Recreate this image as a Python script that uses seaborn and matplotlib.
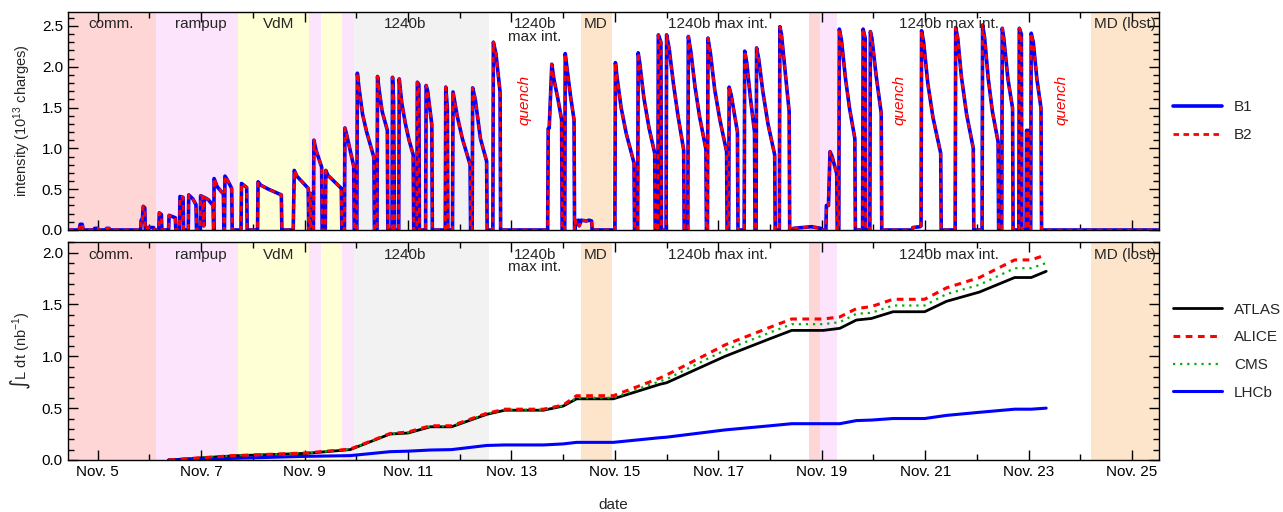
import matplotlib
matplotlib.use("Agg")
import matplotlib.pyplot as plt
import matplotlib.transforms as mtransforms
from matplotlib.ticker import FixedLocator, FuncFormatter, MultipleLocator
import pandas as pd
import seaborn as sns

# ------------------------------------------------------
# Data (x = day of November)
# ------------------------------------------------------
shade_start = [4.42, 6.12, 7.71, 9.09, 9.32, 9.72, 9.95, 14.34, 18.75, 18.96, 24.20]
shade_end = [6.12, 7.71, 9.09, 9.32, 9.72, 9.95, 12.56, 14.94, 18.96, 19.29, 25.52]
shade_color = ["#ffd6d6", "#fce4fc", "#ffffd6", "#fce4fc", "#ffffd6", "#fce4fc",
               "#f2f2f2", "#fde5cc", "#ffd6d6", "#fce4fc", "#fde5cc"]

phase_labels = ["comm.", "rampup", "VdM", "1240b", "1240b\nmax int.", "MD",
                "1240b max int.", "1240b max int.", "MD (lost)"]
phase_pos = [5.26, 7.0, 8.5, 10.95, 13.45, 14.63, 17.0, 21.45, 24.86]

quench_pos = [13.25, 20.51, 23.63]

intensity_time = [
    4.42, 4.64, 4.66, 4.70, 4.72, 4.93, 4.94, 5.00, 5.01, 5.16, 5.17, 5.22, 5.23,
    5.83, 5.84, 5.86, 5.88, 5.91, 5.92, 5.95, 5.96, 6.08, 6.09,
    6.18, 6.19, 6.23, 6.24, 6.37, 6.38, 6.50, 6.51, 6.58, 6.59, 6.65, 6.66,
    6.75, 6.76, 6.84, 6.90, 6.91, 6.98, 6.99, 7.02, 7.05, 7.06, 7.14, 7.23, 7.24,
    7.245, 7.25, 7.31, 7.43, 7.44, 7.45, 7.46, 7.50, 7.59, 7.60,
    7.77, 7.78, 7.80, 7.88, 7.89, 8.09, 8.10, 8.15, 8.30, 8.55, 8.56,
    8.78, 8.80, 8.85, 9.07, 9.08, 9.10, 9.11, 9.12,
    9.17, 9.18, 9.22, 9.33, 9.34, 9.40, 9.41, 9.45, 9.71, 9.72,
    9.77, 9.78, 9.82, 9.95, 9.96, 10.01, 10.02, 10.05, 10.12, 10.20, 10.34, 10.35,
    10.40, 10.41, 10.44, 10.50, 10.60, 10.61, 10.69, 10.70, 10.72, 10.74,
    10.82, 10.83, 10.88, 10.95, 11.02, 11.10, 11.11,
    11.17, 11.18, 11.21, 11.22, 11.34, 11.35, 11.38, 11.46, 11.47,
    11.72, 11.73, 11.76, 11.77, 11.86, 11.87, 11.95, 12.05, 12.20, 12.21,
    12.24, 12.25, 12.30, 12.40, 12.52, 12.53, 12.64, 12.65, 12.70, 12.78, 12.79,
    13.70, 13.71, 13.73, 13.78, 13.82, 13.90, 13.97, 13.98,
    14.03, 14.04, 14.08, 14.14, 14.21, 14.22,
    14.23, 14.24, 14.30, 14.31, 14.35, 14.45, 14.50, 14.55, 14.56,
    15.00, 15.01, 15.04, 15.12, 15.22, 15.37, 15.38,
    15.44, 15.45, 15.48, 15.56, 15.66, 15.77, 15.78,
    15.83, 15.84, 15.89, 15.90, 15.99, 16.00, 16.05, 16.13, 16.22, 16.33, 16.34,
    16.41, 16.42, 16.47, 16.55, 16.64, 16.76, 16.77,
    16.79, 16.80, 16.85, 16.93, 17.03, 17.16, 17.17,
    17.20, 17.21, 17.25, 17.37, 17.38,
    17.50, 17.51, 17.55, 17.62, 17.70, 17.71,
    17.73, 17.74, 17.78, 17.86, 17.96, 18.09, 18.10,
    18.18, 18.19, 18.22, 18.30, 18.37, 18.38,
    18.44, 18.45, 18.80, 18.98, 18.99,
    19.08, 19.09, 19.13, 19.16, 19.20, 19.29, 19.30,
    19.33, 19.34, 19.38, 19.46, 19.54, 19.64, 19.65,
    19.79, 19.80, 19.84, 19.85, 19.93, 19.94, 19.97, 20.05, 20.15, 20.16,
    20.75, 20.76, 20.90, 20.92, 20.93, 20.97, 21.05, 21.15, 21.30, 21.31,
    21.58, 21.59, 21.63, 21.70, 21.80, 21.93, 21.94,
    22.10, 22.11, 22.15, 22.22, 22.30, 22.41, 22.42,
    22.48, 22.49, 22.52, 22.60, 22.69, 22.70,
    22.81, 22.82, 22.86, 22.87, 22.95, 22.96, 22.99, 23.00,
    23.04, 23.05, 23.09, 23.16, 23.24, 23.25, 25.52,
]
intensity_b1 = [
    0, 0, 0.07, 0.07, 0, 0, 0.02, 0.02, 0, 0, 0.02, 0.02, 0,
    0, 0.12, 0.10, 0.29, 0.27, 0, 0, 0.03, 0.03, 0,
    0, 0.21, 0.19, 0, 0, 0.18, 0.15, 0, 0, 0.41, 0.40, 0,
    0, 0.43, 0.38, 0.31, 0, 0, 0.42, 0.41, 0.05, 0.40, 0.37, 0.30, 0,
    0, 0.63, 0.53, 0.44, 0, 0, 0.66, 0.62, 0.51, 0,
    0, 0.57, 0.56, 0.52, 0, 0, 0.59, 0.55, 0.50, 0.43, 0,
    0, 0.73, 0.66, 0.51, 0, 0, 0.45, 0,
    0, 1.10, 0.98, 0.77, 0, 0, 0.73, 0.67, 0.51, 0,
    0, 1.25, 1.15, 0.78, 0, 0, 1.92, 1.75, 1.42, 1.20, 0.89, 0,
    0, 1.88, 1.72, 1.45, 1.22, 0, 0, 1.87, 1.60, 0,
    0, 1.85, 1.55, 1.30, 1.10, 0.92, 0,
    0, 1.81, 1.78, 0, 0, 1.77, 1.70, 1.29, 0,
    0, 1.75, 1.50, 0, 0, 1.69, 1.40, 1.12, 0.80, 0,
    0, 1.74, 1.60, 1.12, 0.84, 0, 0, 2.30, 2.16, 1.69, 0,
    0, 1.24, 1.25, 2.03, 1.85, 1.60, 1.35, 0,
    0, 2.16, 1.95, 1.65, 1.35, 0,
    0, 0.11, 0.12, 0.05, 0.12, 0.11, 0.12, 0.11, 0,
    0, 2.05, 1.88, 1.50, 1.18, 0.82, 0,
    0, 2.17, 2.05, 1.62, 1.25, 0.94, 0,
    0, 2.39, 2.30, 0, 0, 2.39, 2.22, 1.80, 1.40, 0.98, 0,
    0, 2.37, 2.18, 1.75, 1.38, 0.99, 0,
    0, 2.35, 2.15, 1.72, 1.35, 0.96, 0,
    0, 1.75, 1.65, 1.20, 0,
    0, 2.19, 2.05, 1.62, 1.20, 0,
    0, 2.23, 2.10, 1.70, 1.30, 0.92, 0,
    0, 2.49, 2.40, 1.90, 1.45, 0,
    0, 0.02, 0.04, 0.02, 0,
    0, 0.30, 0.30, 0.96, 0.90, 0.69, 0,
    0, 2.46, 2.33, 1.85, 1.48, 1.12, 0,
    0, 2.46, 2.35, 0, 0, 2.43, 2.35, 1.90, 1.43, 0,
    0, 0.03, 0.04, 0.05, 2.44, 2.30, 1.80, 1.38, 0.94, 0,
    0, 2.48, 2.35, 1.88, 1.42, 1.00, 0,
    0, 2.51, 2.35, 1.85, 1.45, 1.08, 0,
    0, 2.47, 2.35, 1.85, 1.49, 0,
    0, 2.47, 2.40, 0, 0, 1.22, 1.22, 0,
    0, 2.41, 2.30, 1.85, 1.49, 0, 0,
]
intensity_b2 = list(intensity_b1)

lumi_time = [6.37, 7.62, 9.04, 9.88, 10.65, 11.00, 11.43, 11.84, 12.52, 12.87,
             13.62, 14.00, 14.26, 14.97, 15.87, 16.00, 17.13, 18.00, 18.42, 19.03,
             19.35, 19.67, 19.96, 20.38, 20.99, 21.41, 22.05, 22.73, 23.05, 23.34]
lumi_atlas = [0, 0.040, 0.064, 0.100, 0.25, 0.26, 0.32, 0.32, 0.44, 0.48,
              0.48, 0.52, 0.59, 0.59, 0.73, 0.745, 1.00, 1.17, 1.25, 1.25,
              1.27, 1.35, 1.365, 1.43, 1.43, 1.53, 1.62, 1.76, 1.76, 1.82]
lumi_alice = [0, 0.042, 0.068, 0.105, 0.255, 0.27, 0.33, 0.33, 0.45, 0.49,
              0.49, 0.53, 0.62, 0.62, 0.79, 0.82, 1.11, 1.28, 1.36, 1.36,
              1.38, 1.46, 1.48, 1.55, 1.55, 1.66, 1.76, 1.93, 1.93, 1.98]
lumi_cms = [0, 0.041, 0.066, 0.103, 0.25, 0.265, 0.325, 0.325, 0.445, 0.485,
            0.485, 0.525, 0.60, 0.60, 0.76, 0.78, 1.06, 1.23, 1.31, 1.31,
            1.33, 1.41, 1.42, 1.49, 1.49, 1.60, 1.69, 1.85, 1.85, 1.90]
lumi_lhcb = [0, 0.016, 0.035, 0.042, 0.080, 0.085, 0.096, 0.100, 0.14, 0.145,
             0.145, 0.155, 0.17, 0.17, 0.215, 0.22, 0.29, 0.33, 0.35, 0.35,
             0.35, 0.38, 0.385, 0.40, 0.40, 0.43, 0.46, 0.49, 0.49, 0.50]

major_days = [5, 7, 9, 11, 13, 15, 17, 19, 21, 23, 25]


# ------------------------------------------------------
# Helpers
# ------------------------------------------------------
def decorate(ax, ymax, minor_y):
    for x0, x1, c in zip(shade_start, shade_end, shade_color):
        ax.axvspan(x0, x1, color=c, lw=0, zorder=0)
    trans = mtransforms.blended_transform_factory(ax.transData, ax.transAxes)
    for lab, x in zip(phase_labels, phase_pos):
        ax.text(x, 0.975, lab, transform=trans, ha="center", va="top",
                fontsize=11, linespacing=0.85, zorder=5, clip_on=True)
    ax.set_xlim(4.42, 25.52)
    ax.set_ylim(0, ymax)
    ax.xaxis.set_major_locator(FixedLocator(major_days))
    ax.xaxis.set_minor_locator(MultipleLocator(1))
    ax.yaxis.set_major_locator(MultipleLocator(0.5))
    ax.yaxis.set_minor_locator(MultipleLocator(minor_y))
    ax.tick_params(which="both", direction="in", top=True, right=True,
                   labelsize=11, width=1, colors="black")
    ax.tick_params(which="major", length=7)
    ax.tick_params(which="minor", length=4)
    ax.yaxis.set_major_formatter(FuncFormatter(lambda v, p: f"{v:.1f}"))
    for sp in ax.spines.values():
        sp.set_color("black")
        sp.set_linewidth(1.0)
        sp.set_zorder(6)


def main():
    sns.set_style("ticks")
    plt.rcParams["font.family"] = ["Liberation Sans", "DejaVu Sans"]
    plt.rcParams["mathtext.default"] = "regular"

    fig = plt.figure(figsize=(12.83, 5.12), dpi=100)
    ax1 = fig.add_axes([0.0528, 0.5508, 0.8505, 0.4258])
    ax2 = fig.add_axes([0.0528, 0.1016, 0.8505, 0.4252])

    # ---------------- intensity panel ----------------
    decorate(ax1, 2.67, 0.1)
    df_int = pd.DataFrame({"t": intensity_time, "B1": intensity_b1, "B2": intensity_b2})
    sns.lineplot(data=df_int, x="t", y="B1", ax=ax1, color="#0000ff", lw=2.6,
                 sort=False, estimator=None, label="B1", zorder=3)
    sns.lineplot(data=df_int, x="t", y="B2", ax=ax1, color="#ff0000", lw=2.0,
                 sort=False, estimator=None, label="B2", zorder=4,
                 linestyle=(0, (2.0, 1.6)))
    for x in quench_pos:
        ax1.text(x, 1.59, "quench", color="red", style="italic", rotation=90,
                 ha="center", va="center", fontsize=11, zorder=5)
    ax1.set_xlabel("")
    ax1.set_ylabel("intensity (10$^{13}$ charges)", fontsize=10.5, labelpad=6)
    ax1.set_xticklabels([])
    ax1.legend(loc="center left", bbox_to_anchor=(1.0, 0.5), frameon=False,
               fontsize=11, handlelength=3.2, labelspacing=0.9)

    # ---------------- luminosity panel ----------------
    decorate(ax2, 2.1, 0.1)
    df_lumi = pd.DataFrame({"t": lumi_time, "ATLAS": lumi_atlas, "ALICE": lumi_alice,
                            "CMS": lumi_cms, "LHCb": lumi_lhcb})
    sns.lineplot(data=df_lumi, x="t", y="ATLAS", ax=ax2, color="black", lw=2.0,
                 estimator=None, label="ATLAS", zorder=3)
    sns.lineplot(data=df_lumi, x="t", y="ALICE", ax=ax2, color="#ff0000", lw=2.2,
                 estimator=None, label="ALICE", zorder=4, linestyle=(0, (2.2, 1.8)))
    sns.lineplot(data=df_lumi, x="t", y="CMS", ax=ax2, color="#00b000", lw=1.6,
                 estimator=None, label="CMS", zorder=3, linestyle=(0, (1, 2.2)))
    sns.lineplot(data=df_lumi, x="t", y="LHCb", ax=ax2, color="#0000ff", lw=2.2,
                 estimator=None, label="LHCb", zorder=3)
    ax2.xaxis.set_major_formatter(FuncFormatter(lambda v, p: f"Nov. {int(round(v))}"))
    ax2.set_xlabel("date", fontsize=11, labelpad=14)
    ax2.set_ylabel("∫L dt (nb$^{-1}$)", fontsize=10.5, labelpad=6)
    ax2.legend(loc="center left", bbox_to_anchor=(1.0, 0.5), frameon=False,
               fontsize=11, handlelength=3.2, labelspacing=0.9)

    fig.savefig("out.png", dpi=100)
    plt.close(fig)


if __name__ == "__main__":
    main()
